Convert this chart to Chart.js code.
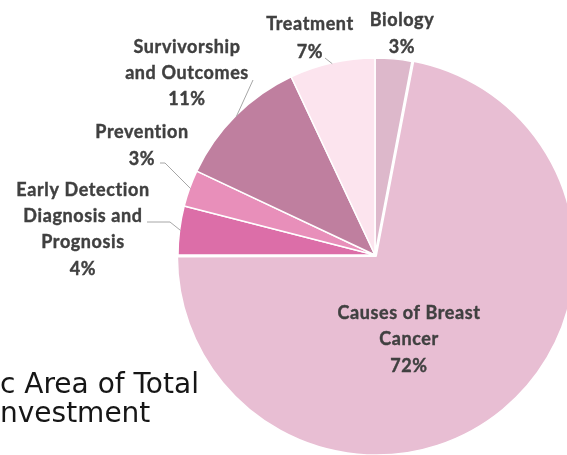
<!DOCTYPE html>
<html>
<head>
<meta charset="utf-8">
<title>Scientific Area of Total Investment</title>
<script src="https://cdn.jsdelivr.net/npm/chart.js@4/dist/chart.umd.min.js"></script>
<style>
    html, body { margin: 0; padding: 0; background: #fff; width: 567px; height: 455px; overflow: hidden; }
    #area { position: absolute; left: 0; top: 0; width: 750px; height: 510px; }
    #titulo {
        position: absolute; left: 0; top: 369px;
        font: 28px "DejaVu Sans", sans-serif; line-height: 29px;
        color: #161616; white-space: nowrap;
    }
</style>
</head>
<body>
<div id="area"><canvas id="graficoPizza" width="750" height="510"></canvas></div>
<div id="titulo">c Area of Total<br>nvestment</div>

<script>
// Dados do gráfico (sentido horário a partir do topo)
const categorias = [
    ['Biology'],
    ['Causes of Breast', 'Cancer'],
    ['Early Detection', 'Diagnosis and', 'Prognosis'],
    ['Prevention'],
    ['Survivorship', 'and Outcomes'],
    ['Treatment']
];
const percentuais = [3, 72, 4, 3, 11, 7];
const cores = ['#ddb8cb', '#e8bed3', '#dc6ea8', '#e88fba', '#bf7f9f', '#fce4ee'];
const destaque = [0, 7, 0, 0, 0, 0]; // fatia "Causes" levemente destacada

// Posição dos rótulos (centro da primeira linha) e das linhas de chamada
const posRotulos = [
    { x: 402, y: 20, passo: 27 },
    { x: 409, y: 313, passo: 26.5 },
    { x: 83, y: 190, passo: 26.3, linha: [[147, 222], [170, 222]] },
    { x: 142, y: 132, passo: 27, linha: [[160, 163], [165, 163]] },
    { x: 187, y: 47, passo: 26, linha: [[253, 80]] },
    { x: 310, y: 24, passo: 28, linha: [[325, 58]] }
];

/**
 * @description Plugin simples que escreve os rótulos e as linhas de chamada.
 */
const rotulosPlugin = {
    id: 'rotulos',
    afterDatasetsDraw(chart) {
        const ctx = chart.ctx;
        const meta = chart.getDatasetMeta(0);
        ctx.save();
        meta.data.forEach((arc, i) => {
            const pos = posRotulos[i];
            const linhas = [...chart.data.labels[i], chart.data.datasets[0].data[i] + '%'];

            // Linha de chamada até a borda da fatia
            if (pos.linha) {
                const meio = (arc.startAngle + arc.endAngle) / 2;
                const fimX = arc.x + Math.cos(meio) * (arc.outerRadius - 1);
                const fimY = arc.y + Math.sin(meio) * (arc.outerRadius - 1);
                ctx.beginPath();
                ctx.moveTo(pos.linha[0][0], pos.linha[0][1]);
                pos.linha.slice(1).forEach(p => ctx.lineTo(p[0], p[1]));
                ctx.lineTo(fimX, fimY);
                ctx.strokeStyle = '#a6a6a6';
                ctx.lineWidth = 1;
                ctx.stroke();
            }

            ctx.font = 'bold 18px Lato, sans-serif';
            ctx.letterSpacing = '0.6px';
            ctx.fillStyle = '#404040';
            ctx.strokeStyle = '#404040';
            ctx.lineWidth = 0.4;
            ctx.textAlign = 'center';
            ctx.textBaseline = 'middle';
            linhas.forEach((txt, k) => {
                ctx.fillText(txt, pos.x, pos.y + k * pos.passo);
                ctx.strokeText(txt, pos.x, pos.y + k * pos.passo);
            });
        });
        ctx.restore();
    }
};

const ctx = document.getElementById('graficoPizza').getContext('2d');
const graficoPizza = new Chart(ctx, {
    type: 'pie',
    data: {
        labels: categorias,
        datasets: [{
            data: percentuais,
            backgroundColor: cores,
            borderColor: '#ffffff',
            borderWidth: 1.5,
            offset: destaque
        }]
    },
    options: {
        responsive: false,
        animation: false,
        radius: 197,
        layout: { padding: 0 },
        plugins: {
            legend: { display: false },
            tooltip: { enabled: false }
        }
    },
    plugins: [rotulosPlugin]
});
</script>
</body>
</html>
